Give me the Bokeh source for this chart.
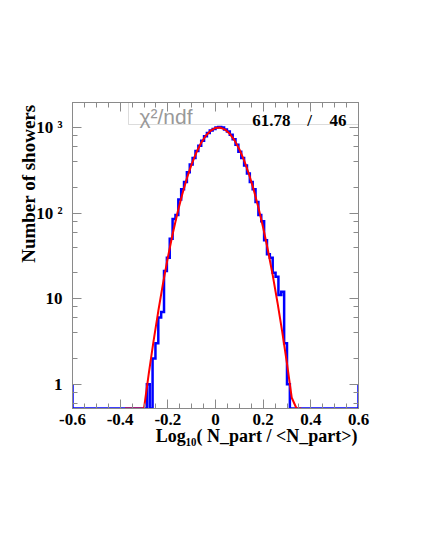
import numpy as np
from bokeh.plotting import figure
from bokeh.models import (LinearAxis, LogAxis, FixedTicker, LogTicker, Label,
                          BoxAnnotation, Range1d, CustomJSTickFormatter, Title)
from bokeh.embed import file_html
from bokeh.resources import INLINE

# ---------------- data ----------------
x_lo, x_hi = -0.6, 0.6
y_lo, y_hi = 0.52, 1958
bin_width = 0.012
first_edge = -0.288
counts = [1, 0, 2, 3, 6, 7, 21, 30, 50, 85, 95, 144, 190, 230, 300, 370, 440,
          530, 610, 700, 790, 860, 920, 960, 1000, 1010, 1000, 950, 900, 820,
          730, 630, 520, 440, 360, 290, 230, 190, 135, 95, 80, 48, 33, 30, 20,
          18, 11, 12, 3, 1, 0]
edge_level = 1

fit_x = [-0.38, -0.36, -0.34, -0.32, -0.30, -0.28, -0.26, -0.24, -0.22, -0.20,
         -0.18, -0.16, -0.14, -0.12, -0.10, -0.08, -0.06, -0.04, -0.02, 0.00,
         0.02, 0.04, 0.06, 0.08, 0.10, 0.12, 0.14, 0.16, 0.18, 0.20, 0.22,
         0.24, 0.26, 0.28, 0.30, 0.32, 0.34, 0.36]
fit_y = [0.0066, 0.0217, 0.0667, 0.192, 0.521, 1.33, 3.18, 7.16, 15.2, 30.2,
         56.5, 99.4, 164, 255, 373, 513, 663, 805, 919, 987, 996, 945, 843,
         707, 558, 413, 288, 189, 116, 67.3, 36.7, 18.8, 9.02, 4.08, 1.74,
         0.694, 0.261, 0.092]

x_tick_values = [-0.6, -0.4, -0.2, 0.0, 0.2, 0.4, 0.6]
x_tick_labels = ["-0.6", "-0.4", "-0.2", "0", "0.2", "0.4", "0.6"]
y_tick_values = [1, 10, 100, 1000]
y_tick_labels = ["1", "10", "10 \u00b2", "10 \u00b3"]

chi2_text = "\u03c7\u00b2/ndf"
chi2_value = "61.78"
ndf_value = "46"
x_title = "Log\u2081\u2080( N_part / <N_part>)"
y_title = "Number of showers"

# ---------------- build ----------------
SERIF = "Liberation Serif"
GRAY = "#8a8a8a"

p = figure(width=413, height=537, y_axis_type="log",
           x_range=Range1d(x_lo, x_hi), y_range=Range1d(y_lo, y_hi),
           output_backend="svg", toolbar_location=None,
           min_border_left=72, min_border_right=55,
           min_border_top=102, min_border_bottom=129,
           background_fill_color="white", border_fill_color="white")
p.xgrid.visible = False
p.ygrid.visible = False
p.outline_line_color = GRAY
p.outline_line_width = 1

minor_x = [round(v, 3) for v in np.arange(x_lo, x_hi + 1e-9, 0.05)]


def style_axis(ax, labels=True):
    ax.axis_line_color = GRAY
    ax.major_tick_line_color = GRAY
    ax.minor_tick_line_color = GRAY
    ax.major_tick_in = 9
    ax.major_tick_out = 0
    ax.minor_tick_in = 5
    ax.minor_tick_out = 0
    ax.major_label_text_font = SERIF
    ax.major_label_text_font_style = "bold"
    ax.major_label_text_font_size = "17px"
    ax.major_label_text_color = "black"
    if not labels:
        ax.formatter = CustomJSTickFormatter(code="return ''")
        ax.major_label_standoff = 0


xa = p.xaxis[0]
xa.ticker = FixedTicker(ticks=x_tick_values, minor_ticks=minor_x)
xa.major_label_overrides = dict(zip(x_tick_values, x_tick_labels))
style_axis(xa)
xa.major_label_standoff = 5

ya = p.yaxis[0]
ya.ticker = LogTicker()
ya.major_label_overrides = dict(zip(y_tick_values, y_tick_labels))
style_axis(ya)
ya.major_label_standoff = 10

top = LinearAxis(ticker=FixedTicker(ticks=x_tick_values, minor_ticks=minor_x))
style_axis(top, labels=False)
p.add_layout(top, "above")
right = LogAxis(ticker=LogTicker())
style_axis(right, labels=False)
p.add_layout(right, "right")

# axis titles, right-aligned at the axis ends
p.add_layout(Title(text=x_title, align="right", text_font=SERIF,
                   text_font_style="bold", text_font_size="18px",
                   text_color="black", standoff=-7, offset=1), "below")
p.add_layout(Title(text=y_title, align="right", text_font=SERIF,
                   text_font_style="bold", text_font_size="19px",
                   text_color="black", standoff=-10, offset=2), "left")

# histogram as a step outline; empty bins sit on the lower edge
edges = first_edge + bin_width * np.arange(len(counts) + 1)
hx = [x_lo, x_lo, edges[0]]
hy = [edge_level, y_lo, y_lo]
for i, c in enumerate(counts):
    v = c if c > 0 else y_lo
    hx += [edges[i], edges[i + 1]]
    hy += [v, v]
hx += [edges[-1], x_hi, x_hi]
hy += [y_lo, y_lo, edge_level]
p.line(hx, hy, line_color="#0000ff", line_width=2.5, line_join="miter")

# fitted curve (values below the axis minimum are drawn on the lower edge)
p.line(fit_x, np.maximum(np.array(fit_y), y_lo), line_color="#ff0000",
       line_width=2)


def lab(text, x, y, size, font=SERIF, style="bold", color="black",
        align="left", baseline="alphabetic"):
    p.add_layout(Label(x=x, y=y, x_units="screen", y_units="screen",
                       text=text, text_font=font, text_font_size=f"{size}px",
                       text_font_style=style, text_color=color,
                       text_align=align, text_baseline=baseline))


# stats box
p.add_layout(BoxAnnotation(left=56, right=286, top=306, bottom=284,
                           left_units="screen", right_units="screen",
                           top_units="screen", bottom_units="screen",
                           fill_alpha=0, line_color=GRAY, line_width=1))
lab(chi2_text, 67, 292, 21, font="Liberation Sans", style="normal",
    color="#999999")
lab(chi2_value, 218, 288, 17, align="right")
lab("/", 237, 288, 17, align="center")
lab(ndf_value, 274, 288, 17, align="right")

open("out.html", "w").write(file_html(p, INLINE))
